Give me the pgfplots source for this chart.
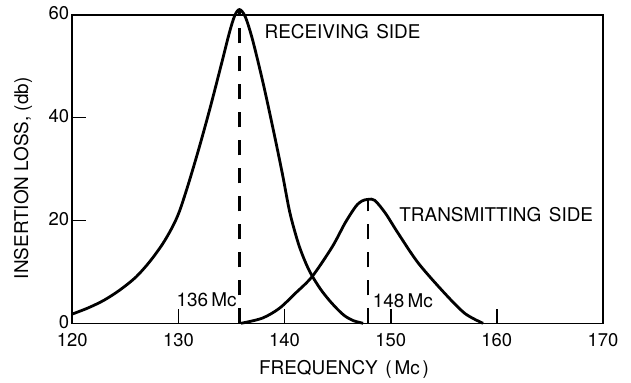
\documentclass[border=0pt]{standalone}
\usepackage{pgfplots}
\pgfplotsset{compat=1.18}
\usepackage{fontspec}
\setmainfont{TeX Gyre Heros}
\newcommand{\lbl}{\fontsize{19}{21}\selectfont}
\newcommand{\tkl}{\fontsize{18.5}{20}\selectfont}
\begin{document}
\begin{tikzpicture}
\begin{axis}[
  scale only axis,
  width=530.7bp, height=308.6bp,
  xmin=120, xmax=170, ymin=0, ymax=60,
  xtick={120,130,...,170}, ytick={0,20,40,60},
  tick pos=left, tick align=inside,
  major tick length=14bp,
  axis line style={line width=1.6bp},
  tick style={line width=1.6bp, black},
  /pgf/number format/assume math mode=true,
  ticklabel style={font=\tkl},
  xticklabel style={yshift=-9bp, inner sep=0.5bp},
  yticklabel style={xshift=-2bp, yshift=1.5bp, inner sep=1bp},
  label style={font=\lbl},
  xlabel={FREQUENCY\hspace{0.4em}(\hspace{0.15em}Mc\hspace{0.15em})},
  ylabel={INSERTION LOSS, (db)},
  xlabel style={at={(axis description cs:0.512,-0.151)}, anchor=center},
  ylabel style={at={(axis description cs:-0.093,0.47)}, anchor=center},
  clip=false,
]
% receiving side
\addplot[black, line width=2.8bp, smooth, tension=0.5] coordinates {
 (120,1.8) (121.5,3.0) (123,4.5) (124.5,6.5) (126,9.0) (127.3,12.0)
 (128.5,15.4) (129.4,18.6) (130.1,21.8) (131.0,27.5) (132.0,34.5)
 (133.0,42) (134.0,50) (134.8,56.5) (135.3,59.8) (135.75,61)
 (136.3,59.6) (137.0,55) (138.0,46.5) (139.0,37) (139.8,29) (140.5,21.5)
 (141.3,15.5) (142.0,11.7) (142.6,9.2) (143.4,6.6) (144.2,4.5) (145.0,2.7)
 (145.7,1.4) (146.5,0.5) (147.4,0)
};
% transmitting side
\addplot[black, line width=2.8bp, smooth, tension=0.5] coordinates {
 (135.9,0) (137.9,1.0) (139.5,2.9) (141.0,5.8) (142.6,9.1) (144.5,14.9)
 (145.7,19.5) (146.7,22.7) (147.3,23.8) (147.9,24.1) (148.5,23.9) (149.5,21.4)
 (150.7,17.5) (152.6,11.7) (155.1,5.8) (157.0,1.9) (158.7,0)
};
% centre frequencies
\addplot[black, line width=2.4bp, dash pattern=on 15bp off 13bp] coordinates {(135.75,0) (135.75,61)};
\addplot[black, line width=2.4bp, dash pattern=on 15bp off 13bp] coordinates {(147.85,0) (147.85,24)};
\node[font=\lbl, anchor=base west, inner sep=0pt] at (axis cs:138.1,55.3) {RECEIVING\hspace{0.4em}SIDE};
\node[font=\lbl, anchor=base west, inner sep=0pt] at (axis cs:150.8,19.8) {TRANSMITTING\hspace{0.4em}SIDE};
\node[font=\lbl, anchor=base east, inner sep=0pt] at (axis cs:135.5,3.2) {136\,Mc};
\node[font=\lbl, anchor=base west, inner sep=0pt] at (axis cs:148.3,3.0) {148\,Mc};
\end{axis}
\pgfresetboundingbox
\path[use as bounding box] (current axis.south west) ++(-72.3bp,-59.7bp) rectangle ++(631bp,383bp);
\end{tikzpicture}
\end{document}
